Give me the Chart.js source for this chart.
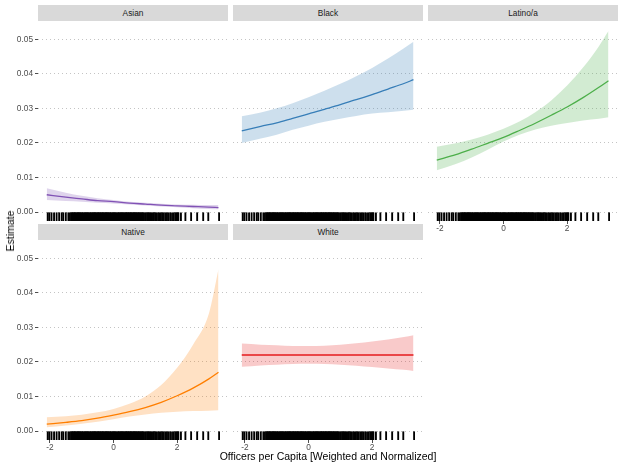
<!DOCTYPE html>
<html><head><meta charset="utf-8">
<script src="https://cdn.jsdelivr.net/npm/chart.js@4.4.1/dist/chart.umd.min.js"></script>
<style>
html,body{margin:0;padding:0;background:#fff;width:629px;height:472px;overflow:hidden;font-family:"Liberation Sans",Arial,sans-serif;}
.strip{position:absolute;background:#d9d9d9;color:#1a1a1a;font-size:8.3px;text-align:center;line-height:16px;height:16px;}
canvas{position:absolute;}
.title{position:absolute;font-size:10.5px;color:#000;white-space:nowrap;}
</style></head><body>
<script>
// ---------- data ----------
const groups = ['Asian','Black','Latino/a','Native','White'];
const xPoints = [-2.1,-1.5,-1,-0.5,0,0.5,1,1.5,2,2.5,3,3.3];

const asianFit  = [0.0050,0.0043,0.0038,0.0033,0.0030,0.0026,0.0023,0.0020,0.0018,0.0016,0.0014,0.0013];
const asianHigh = [0.0069,0.0056,0.0047,0.0040,0.0035,0.0030,0.0027,0.0024,0.0022,0.0021,0.0020,0.0020];
const asianLow  = [0.0035,0.0032,0.0030,0.0027,0.0025,0.0022,0.0019,0.0016,0.0014,0.0011,0.0009,0.0008];

const blackFit  = [0.0235,0.0248,0.0258,0.0271,0.0284,0.0297,0.0311,0.0325,0.0340,0.0356,0.0372,0.0383];
const blackHigh = [0.0277,0.0288,0.0300,0.0315,0.0332,0.0351,0.0371,0.0393,0.0417,0.0444,0.0474,0.0493];
const blackLow  = [0.0200,0.0213,0.0224,0.0238,0.0250,0.0261,0.0270,0.0278,0.0285,0.0289,0.0293,0.0296];

const latinoFit  = [0.0150,0.0166,0.0182,0.0199,0.0216,0.0236,0.0257,0.0280,0.0304,0.0331,0.0361,0.0380];
const latinoHigh = [0.0189,0.0199,0.0210,0.0224,0.0241,0.0262,0.0289,0.0323,0.0366,0.0418,0.0480,0.0524];
const latinoLow  = [0.0121,0.0139,0.0158,0.0180,0.0204,0.0224,0.0239,0.0250,0.0258,0.0265,0.0270,0.0274];

const nativeFit  = [0.0020,0.0025,0.0030,0.0037,0.0046,0.0056,0.0068,0.0083,0.0102,0.0124,0.0151,0.0170];
const nativeHigh = [0.0040,0.0043,0.0047,0.0054,0.0064,0.0079,0.0100,0.0133,0.0183,0.0250,0.0340,0.0468];
const nativeLow  = [0.0011,0.0016,0.0021,0.0027,0.0034,0.0042,0.0048,0.0053,0.0056,0.0058,0.0059,0.0060];

const whiteFit  = [0.0220,0.0220,0.0220,0.0220,0.0220,0.0220,0.0220,0.0220,0.0220,0.0220,0.0220,0.0220];
const whiteHigh = [0.0253,0.0250,0.0248,0.0246,0.0246,0.0247,0.0250,0.0254,0.0259,0.0265,0.0272,0.0277];
const whiteLow  = [0.0186,0.0190,0.0192,0.0194,0.0195,0.0194,0.0192,0.0189,0.0185,0.0181,0.0177,0.0174];

const rugX = [-2.07,-2.02,-1.95,-1.87,-1.79,-1.71,-1.63,-1.58,-1.50,-1.42,-1.37,
 -1.33,-1.30,-1.28,-1.25,-1.22,-1.20,-1.17,-1.14,-1.12,-1.09,-1.06,-1.04,-1.01,-0.98,-0.96,-0.93,-0.90,-0.88,-0.85,
 -0.82,-0.80,-0.77,-0.74,-0.72,-0.69,-0.66,-0.64,-0.61,-0.58,-0.56,-0.53,-0.50,-0.48,-0.45,-0.42,-0.40,-0.37,-0.34,
 -0.32,-0.29,-0.26,-0.24,-0.21,-0.18,-0.16,-0.13,-0.10,-0.08,-0.05,-0.02,0.00,0.03,0.06,0.08,0.11,0.14,0.16,0.19,
 0.22,0.24,0.27,0.30,0.32,0.35,0.38,0.40,0.43,0.46,0.48,0.51,0.54,0.56,0.59,0.62,0.64,0.67,0.70,0.72,0.75,0.78,0.80,0.83,
 0.86,0.89,0.92,0.95,0.99,1.02,1.06,1.09,1.12,1.16,1.20,1.24,1.27,1.31,1.35,1.40,1.44,1.49,1.53,1.58,1.63,1.68,1.72,
 1.78,1.84,1.89,1.94,1.98,2.01,2.04,2.12,
 2.26,2.44,2.63,2.82,2.98,3.32];

const yTicks = [0,0.01,0.02,0.03,0.04,0.05];
const yTickLabels = ['0.00','0.01','0.02','0.03','0.04','0.05'];
const xTicks = [-2,0,2];
const xTickLabels = ['-2','0','2'];
const xTitle = 'Officers per Capita [Weighted and Normalized]';
const yTitle = 'Estimate';

// ---------- layout / style ----------
const Y_MIN = -0.0026, Y_MAX = 0.055, X_MIN = -2.375, X_MAX = 3.6;
const RUG_LO = -0.0025, RUG_HI = -0.0002;
const panels = [
  {g:0, fit:asianFit,  hi:asianHigh,  lo:asianLow,  color:'#8152b5', fill:'rgba(129,82,181,0.25)', left:38,  top:22,  showY:true,  showX:false},
  {g:1, fit:blackFit,  hi:blackHigh,  lo:blackLow,  color:'#377eb8', fill:'rgba(55,126,184,0.25)', left:233, top:22,  showY:false, showX:false},
  {g:2, fit:latinoFit, hi:latinoHigh, lo:latinoLow, color:'#4daf4a', fill:'rgba(77,175,74,0.25)',  left:428, top:22,  showY:false, showX:true},
  {g:3, fit:nativeFit, hi:nativeHigh, lo:nativeLow, color:'#ff7f00', fill:'rgba(255,127,0,0.23)',  left:38,  top:241, showY:true,  showX:true},
  {g:4, fit:whiteFit,  hi:whiteHigh,  lo:whiteLow,  color:'#e41a1c', fill:'rgba(228,26,28,0.23)',  left:233, top:241, showY:false, showX:true}
];
const PW = 190, PH = 199, YAX = 38, XAX = 16;
const tickFont = {family:'"Liberation Sans", Arial, sans-serif', size:8.3};

function pts(arr){ return xPoints.map((x,i)=>({x:x, y:arr[i]})); }

function addDiv(cls, text, style){
  const d = document.createElement('div');
  d.className = cls; d.textContent = text;
  Object.assign(d.style, style);
  document.body.appendChild(d);
  return d;
}

panels.forEach(p=>{
  addDiv('strip', groups[p.g], {left:p.left+'px', top:(p.top-17)+'px', width:PW+'px'});
  const c = document.createElement('canvas');
  const cw = PW + (p.showY ? YAX : 0);
  const ch = PH + (p.showX ? XAX : 0);
  c.width = cw; c.height = ch;
  c.style.left = (p.left - (p.showY ? YAX : 0)) + 'px';
  c.style.top = p.top + 'px';
  c.style.width = cw+'px'; c.style.height = ch+'px';
  document.body.appendChild(c);
  new Chart(c, {
    type:'line',
    data:{datasets:[
      {data:pts(p.hi), borderWidth:0, pointRadius:0, fill:1, backgroundColor:p.fill, cubicInterpolationMode:'monotone'},
      {data:pts(p.lo), borderWidth:0, pointRadius:0, fill:false, cubicInterpolationMode:'monotone'},
      {data:pts(p.fit), borderColor:p.color, borderWidth:1.3, pointRadius:0, fill:false, cubicInterpolationMode:'monotone'},
      {type:'bar', data:rugX.map(x=>({x:x, y:[RUG_LO, RUG_HI]})), barThickness:1.2, backgroundColor:'#000',
       borderWidth:0, grouped:false}
    ]},
    options:{
      responsive:false, animation:false, devicePixelRatio:1, events:[],
      layout:{padding:0, autoPadding:false},
      plugins:{legend:{display:false}, tooltip:{enabled:false}, filler:{drawTime:'beforeDatasetsDraw'}},
      scales:{
        x:{type:'linear', min:X_MIN, max:X_MAX, display:p.showX, offset:false,
           afterBuildTicks:s=>{s.ticks = xTicks.map(v=>({value:v}));},
           afterFit:s=>{s.height = p.showX ? XAX : 0; s.paddingLeft=0; s.paddingRight=0;},
           ticks:{font:tickFont, color:'#4d4d4d', padding:0, maxRotation:0, autoSkip:false,
                  callback:v=>xTickLabels[xTicks.indexOf(v)]},
           grid:{drawOnChartArea:false, drawTicks:true, tickLength:3, tickColor:'#4d4d4d', tickWidth:1, offset:false},
           border:{display:false}},
        y:{type:'linear', min:Y_MIN, max:Y_MAX,
           afterBuildTicks:s=>{s.ticks = yTicks.map(v=>({value:v}));},
           afterFit:s=>{s.width = p.showY ? YAX : 0; s.paddingTop=0; s.paddingBottom=0;},
           ticks:{display:p.showY, font:tickFont, color:'#4d4d4d', padding:2, autoSkip:false,
                  callback:v=>yTickLabels[yTicks.indexOf(v)]},
           grid:{color:'#c4c4c4', lineWidth:1, drawTicks:p.showY, tickLength:3, tickColor:'#4d4d4d', tickWidth:1, tickBorderDash:[]},
           border:{display:false, dash:[1,3]}}
      }
    }
  });
});

addDiv('title', xTitle, {left:'328px', top:'450px', transform:'translateX(-50%)'});
addDiv('title', yTitle, {left:'10px', top:'231px', transform:'translate(-50%,-50%) rotate(-90deg)'});
</script>
</body></html>
